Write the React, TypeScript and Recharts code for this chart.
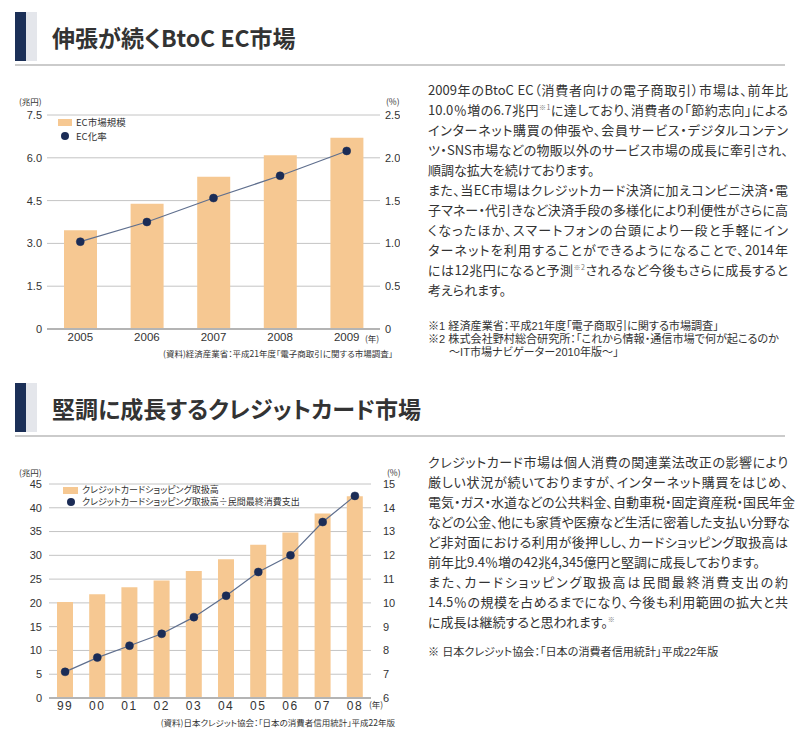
import React from 'react'
import { Bar, CartesianGrid, ComposedChart, Legend, Line, XAxis, YAxis } from 'recharts'

// BtoC EC market (trillion yen) and EC ratio (%)
const ecYears = ['2005', '2006', '2007', '2008', '2009']
const ecMarketSize = [3.46, 4.39, 5.34, 6.09, 6.7]
const ecRatio = [1.02, 1.25, 1.53, 1.79, 2.08]
const ecLeftTicks = [0, 1.5, 3, 4.5, 6, 7.5]
const ecRightTicks = [0, 0.5, 1, 1.5, 2, 2.5]

// credit card shopping volume (trillion yen) and share of private consumption (%)
const cardYears = ['99', '00', '01', '02', '03', '04', '05', '06', '07', '08']
const cardShopping = [20.2, 21.8, 23.3, 24.7, 26.7, 29.2, 32.2, 34.8, 38.8, 42.4]
const cardShare = [7.1, 7.7, 8.2, 8.7, 9.4, 10.3, 11.3, 12.0, 13.4, 14.5]
const cardLeftTicks = [0, 5, 10, 15, 20, 25, 30, 35, 40, 45]
const cardRightTicks = [6, 7, 8, 9, 10, 11, 12, 13, 14, 15]

const BAR = '#f6c892'
const DOT = '#1b2c56'
const LINE = '#5f6f8e'
const GRID = '#c4c4c4'
const TEXT = '#333'
const JP = '"Noto Sans CJK JP", "Noto Sans", sans-serif'
const NUM = '"Liberation Sans", Arial, sans-serif'

const ecData = ecYears.map((year, i) => ({ year, size: ecMarketSize[i], ratio: ecRatio[i] }))
const cardData = cardYears.map((year, i) => ({ year, size: cardShopping[i], ratio: cardShare[i] }))

type LegendOpts = { boxW: number; rowH: number; fontSize: number }

function makeLegend({ boxW, rowH, fontSize }: LegendOpts) {
  return (props: any) => {
    const items = [...(props.payload || [])].sort((a: any) => (a.type === 'rect' ? -1 : 1))
    return (
      <div style={{ fontFamily: JP, fontSize, color: TEXT, fontFeatureSettings: '"palt"' }}>
        {items.map((it: any) => (
          <div
            key={it.value}
            style={{ display: 'flex', alignItems: 'center', height: rowH, lineHeight: `${rowH}px`, whiteSpace: 'nowrap' }}
          >
            <span style={{ width: boxW, display: 'flex', justifyContent: 'center', marginRight: 4 }}>
              {it.type === 'rect' ? (
                <span style={{ width: boxW, height: 7, background: BAR }} />
              ) : (
                <span style={{ width: 8, height: 8, borderRadius: 4, background: DOT }} />
              )}
            </span>
            {it.value}
          </div>
        ))}
      </div>
    )
  }
}

type ChartProps = {
  data: any[]
  width: number
  height: number
  marginTop: number
  leftW: number
  rightW: number
  xH: number
  leftTicks: number[]
  rightTicks: number[]
  fmt: (v: number) => string
  barSize: number
  barName: string
  lineName: string
  leftMargin: number
  rightMargin: number
  xMargin: number
  xTickStyle: any
  legendPos: { left: number; top: number }
  legend: LegendOpts
}

function DualChart(p: ChartProps) {
  const tick = { fill: TEXT, fontSize: 11, fontFamily: NUM }
  return (
    <ComposedChart width={p.width} height={p.height} data={p.data} margin={{ top: p.marginTop, right: 0, bottom: 0, left: 0 }}>
      <CartesianGrid yAxisId="left" vertical={false} stroke={GRID} />
      <XAxis
        dataKey="year"
        height={p.xH}
        tickLine={false}
        tickSize={0}
        tickMargin={p.xMargin}
        axisLine={{ stroke: '#b4b4b4', strokeWidth: 2 }}
        tick={{ ...tick, ...p.xTickStyle }}
        interval={0}
      />
      <YAxis
        yAxisId="left"
        width={p.leftW}
        domain={[p.leftTicks[0], p.leftTicks[p.leftTicks.length - 1]]}
        ticks={p.leftTicks}
        tickFormatter={p.fmt}
        tickLine={false}
        axisLine={false}
        tickSize={0}
        tickMargin={p.leftMargin}
        tick={tick}
        interval={0}
      />
      <YAxis
        yAxisId="right"
        orientation="right"
        width={p.rightW}
        domain={[p.rightTicks[0], p.rightTicks[p.rightTicks.length - 1]]}
        ticks={p.rightTicks}
        tickFormatter={p.fmt}
        tickLine={false}
        axisLine={false}
        tickSize={0}
        tickMargin={p.rightMargin}
        tick={tick}
        interval={0}
      />
      <Legend
        layout="vertical"
        align="center"
        verticalAlign="middle"
        wrapperStyle={{ left: p.legendPos.left, top: p.legendPos.top, width: 'auto' }}
        content={makeLegend(p.legend)}
      />
      <Bar yAxisId="left" dataKey="size" name={p.barName} fill={BAR} barSize={p.barSize} legendType="rect" isAnimationActive={false} />
      <Line
        yAxisId="right"
        type="linear"
        dataKey="ratio"
        name={p.lineName}
        stroke={LINE}
        strokeWidth={1.2}
        dot={{ r: 4, fill: DOT, stroke: DOT, strokeWidth: 0.5 }}
        legendType="circle"
        isAnimationActive={false}
      />
    </ComposedChart>
  )
}

function Abs({ x, y, children, style }: { x: number; y: number; children: React.ReactNode; style?: any }) {
  return <div style={{ position: 'absolute', left: x, top: y, ...style }}>{children}</div>
}

function Heading({ y, text }: { y: number; text: string }) {
  return (
    <>
      <div style={{ position: 'absolute', left: 15, top: y, width: 11, height: 49, background: '#1b2f57' }} />
      <div style={{ position: 'absolute', left: 26, top: y, width: 11, height: 49, background: '#e4e6eb' }} />
      <div
        style={{
          position: 'absolute',
          left: 52,
          top: y + 10,
          fontFamily: JP,
          fontSize: 23,
          fontWeight: 700,
          color: '#333',
          lineHeight: '30px',
          whiteSpace: 'nowrap',
          fontFeatureSettings: '"palt"',
        }}
      >
        {text}
      </div>
      <div style={{ position: 'absolute', left: 15, top: y + 52, width: 770, height: 2, background: '#cbcbcb' }} />
    </>
  )
}

const sup = (s: string) => (
  <span style={{ fontSize: 7, verticalAlign: 'super', color: '#777', lineHeight: 0 }}>{s}</span>
)

function Para({ x, y, lines, lastIdx }: { x: number; y: number; lines: React.ReactNode[]; lastIdx: number[] }) {
  return (
    <div style={{ position: 'absolute', left: x, top: y, width: 360, fontFamily: JP, fontSize: 13, color: TEXT, fontFeatureSettings: '"palt"' }}>
      {lines.map((l, i) => (
        <div
          key={i}
          style={{ height: 20, lineHeight: '20px', textAlign: 'justify', textAlignLast: lastIdx.includes(i) ? 'left' : 'justify', whiteSpace: 'nowrap' }}
        >
          {l}
        </div>
      ))}
    </div>
  )
}

const small = { fontFamily: JP, fontSize: 8.5, color: TEXT, whiteSpace: 'nowrap', fontFeatureSettings: '"palt"', lineHeight: '12px' }
const note = {
  fontFamily: '"Liberation Sans", "Noto Sans CJK JP", sans-serif',
  fontSize: 11.1,
  color: TEXT,
  whiteSpace: 'nowrap',
  fontFeatureSettings: '"palt"',
  lineHeight: '13px',
}

export default function App() {
  return (
    <div style={{ position: 'absolute', left: 0, top: 0, width: 800, height: 731, background: '#fff', overflow: 'hidden' }}>
      <Heading y={12} text="伸張が続くBtoC EC市場" />
      <Heading y={383} text="堅調に成長するクレジットカード市場" />

      {/* chart 1 */}
      <div style={{ position: 'absolute', left: 0, top: 90 }}>
        <DualChart
          data={ecData}
          width={400}
          height={270}
          marginTop={25}
          leftW={47}
          rightW={20}
          xH={31}
          leftTicks={ecLeftTicks}
          rightTicks={ecRightTicks}
          fmt={(v) => (v === 0 ? '0' : v.toFixed(1))}
          barSize={33}
          barName="EC市場規模"
          lineName="EC化率"
          leftMargin={5}
          rightMargin={5}
          xMargin={4}
          xTickStyle={{ fontSize: 11.5 }}
          legendPos={{ left: 58, top: 25 }}
          legend={{ boxW: 14, rowH: 14, fontSize: 9.5 }}
        />
      </div>
      <Abs x={19} y={95} style={small}>(兆円)</Abs>
      <Abs x={386} y={95} style={small}>(%)</Abs>
      <Abs x={365} y={332} style={small}>(年)</Abs>
      <div style={{ ...small, position: 'absolute', right: 407, top: 347 }}>(資料)経済産業省：平成21年度「電子商取引に関する市場調査」</div>

      {/* chart 2 */}
      <div style={{ position: 'absolute', left: 0, top: 455 }}>
        <DualChart
          data={cardData}
          width={400}
          height={275}
          marginTop={29}
          leftW={49}
          rightW={29}
          xH={32}
          leftTicks={cardLeftTicks}
          rightTicks={cardRightTicks}
          fmt={(v) => String(v)}
          barSize={16}
          barName="クレジットカードショッピング取扱高"
          lineName="クレジットカードショッピング取扱高÷民間最終消費支出"
          leftMargin={7}
          rightMargin={12}
          xMargin={3}
          xTickStyle={{ fontSize: 12, letterSpacing: 1.5 }}
          legendPos={{ left: 63, top: 29 }}
          legend={{ boxW: 15, rowH: 12, fontSize: 9 }}
        />
      </div>
      <Abs x={19} y={466} style={small}>(兆円)</Abs>
      <Abs x={387} y={466} style={small}>(%)</Abs>
      <Abs x={369} y={698} style={small}>(年)</Abs>
      <div style={{ ...small, position: 'absolute', right: 405, top: 716 }}>(資料)日本クレジット協会：「日本の消費者信用統計」平成22年版</div>

      <Para
        x={428}
        y={80}
        lastIdx={[4, 10]}
        lines={[
          <>2009年のBtoC EC（消費者向けの電子商取引）市場は、前年比</>,
          <>10.0％増の6.7兆円{sup('※1')}に達しており、消費者の「節約志向」による</>,
          <>インターネット購買の伸張や、会員サービス・デジタルコンテン</>,
          <>ツ・SNS市場などの物販以外のサービス市場の成長に牽引され、</>,
          <>順調な拡大を続けております。</>,
          <>また、当EC市場はクレジットカード決済に加えコンビニ決済・電</>,
          <>子マネー・代引きなど決済手段の多様化により利便性がさらに高</>,
          <>くなったほか、スマートフォンの台頭により一段と手軽にイン</>,
          <>ターネットを利用することができるようになることで、2014年</>,
          <>には12兆円になると予測{sup('※2')}されるなど今後もさらに成長すると</>,
          <>考えられます。</>,
        ]}
      />
      <div style={{ ...note, position: 'absolute', left: 428, top: 320 }}>
        <div>※1 経済産業省：平成21年度「電子商取引に関する市場調査」</div>
        <div>※2 株式会社野村総合研究所：「これから情報・通信市場で何が起こるのか</div>
        <div style={{ paddingLeft: 21 }}>〜IT市場ナビゲーター2010年版〜」</div>
      </div>

      <Para
        x={428}
        y={452}
        lastIdx={[5, 8]}
        lines={[
          <>クレジットカード市場は個人消費の関連業法改正の影響により</>,
          <>厳しい状況が続いておりますが、インターネット購買をはじめ、</>,
          <>電気・ガス・水道などの公共料金、自動車税・固定資産税・国民年金</>,
          <>などの公金、他にも家賃や医療など生活に密着した支払い分野な</>,
          <>ど非対面における利用が後押しし、カードショッピング取扱高は</>,
          <>前年比9.4％増の42兆4,345億円と堅調に成長しております。</>,
          <>また、カードショッピング取扱高は民間最終消費支出の約</>,
          <>14.5％の規模を占めるまでになり、今後も利用範囲の拡大と共</>,
          <>に成長は継続すると思われます。{sup('※')}</>,
        ]}
      />
      <Abs x={428} y={646} style={note}>※ 日本クレジット協会：「日本の消費者信用統計」平成22年版</Abs>
    </div>
  )
}
